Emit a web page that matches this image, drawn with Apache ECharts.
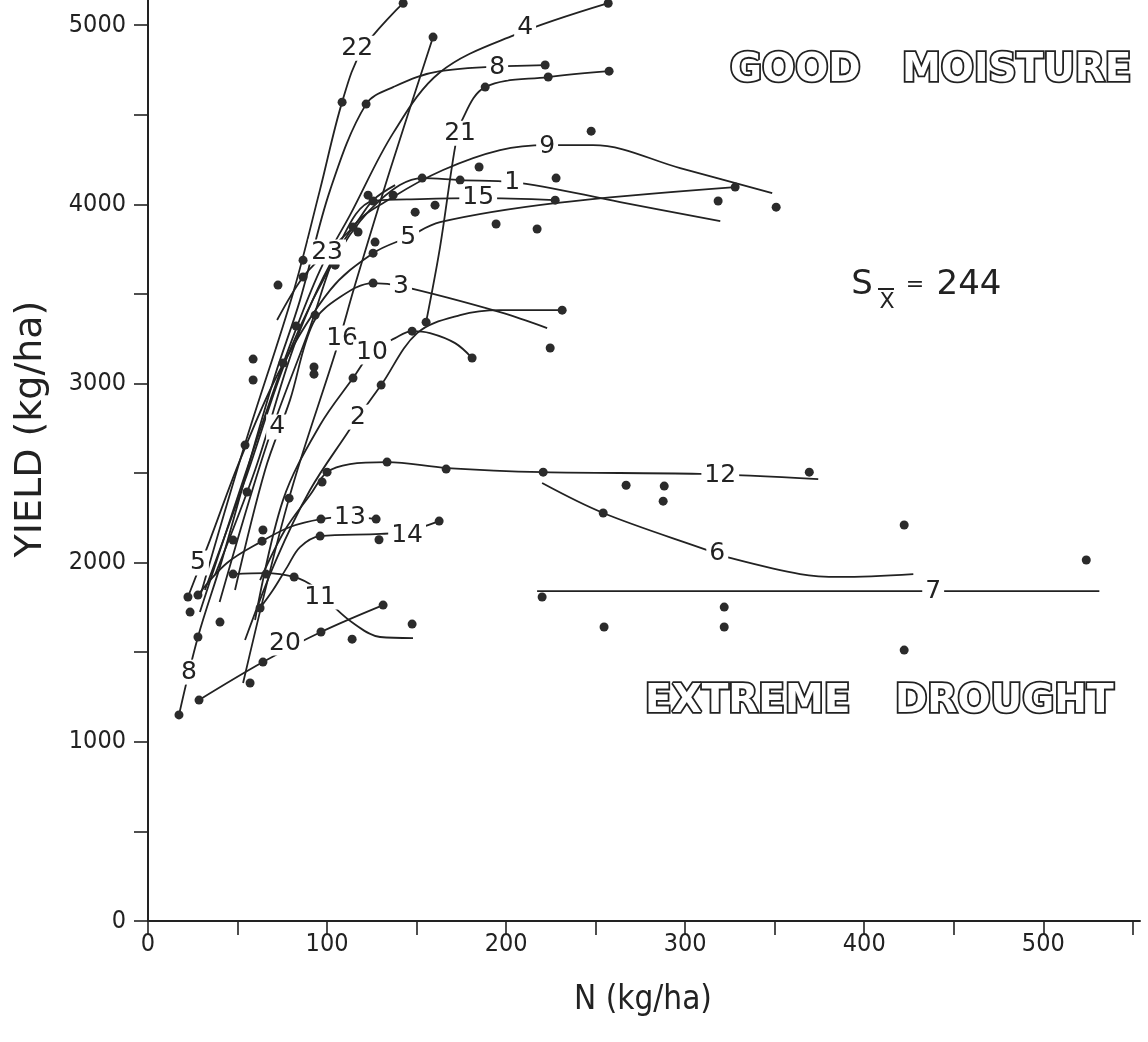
<!DOCTYPE html>
<html>
<head>
<meta charset="utf-8">
<title>Yield vs N</title>
<script src="https://cdn.jsdelivr.net/npm/echarts@6/dist/echarts.min.js"></script>
<style>
  html, body { margin: 0; padding: 0; background: #fff; }
  #chart { width: 1148px; height: 1042px; }
</style>
</head>
<body>
<div id="chart"></div>
<script>
// axis ticks and labels
const xTicks = [0, 50, 100, 150, 200, 250, 300, 350, 400, 450, 500, 550];
const xLabels = [0, 100, 200, 300, 400, 500];
const yTicks = [0, 500, 1000, 1500, 2000, 2500, 3000, 3500, 4000, 4500, 5000];
const yLabels = [0, 1000, 2000, 3000, 4000, 5000];

// fitted response curves, [N, yield]
const curve22 = [[29, 1808], [54, 2656], [81, 3504], [96, 4079], [108.4, 4570], [119.6, 4860], [142.5, 5122]];
const curve8 = [[17.3, 1150], [27.9, 1585], [41.3, 2014], [57, 2572], [71, 3047], [84.9, 3465], [101.7, 4079], [121.8, 4559], [136.9, 4654], [163.1, 4743], [221.8, 4777]];
const curve4 = [[29, 1724], [45.8, 2238], [62.6, 2740], [79.3, 3214], [96.1, 3633], [112.8, 3939], [136.9, 4397], [163.1, 4737], [204.5, 4944], [257, 5122]];
const curve16 = [[53.1, 1328], [78.8, 2360], [105.6, 3203], [115.6, 3549], [135.2, 4191], [159.2, 4933]];
const curve21 = [[155.3, 3342], [163.1, 3761], [171.5, 4319], [175.4, 4470], [188.3, 4654], [223.5, 4710], [257.5, 4743]];
const curve9 = [[37.4, 1931], [59.8, 2517], [84.9, 3298], [114.5, 3873], [136.9, 4040], [164.8, 4191], [196.6, 4302], [222.9, 4330], [248.6, 4330], [297.2, 4202], [348.6, 4062]];
const curve1 = [[31.8, 1847], [54.2, 2461], [79.3, 3186], [107.3, 3744], [129.6, 4023], [153.1, 4146], [174.3, 4135], [203.4, 4124], [263.7, 4012], [319.6, 3906]];
const curve15 = [[40, 1780], [66, 2650], [90, 3300], [108, 3800], [125.7, 4018], [152, 4029], [184.4, 4034], [227.4, 4023]];
const curve5 = [[22.3, 1808], [34.6, 2126], [51.4, 2572], [73.7, 3075], [101.7, 3521], [125.7, 3727], [145.3, 3817], [163.1, 3900], [227.4, 4006], [327.9, 4096]];
const curve3 = [[48.6, 1847], [65.4, 2517], [79.3, 2907], [92.2, 3337], [107.3, 3482], [125.7, 3560], [141.3, 3543], [196.6, 3398], [222.9, 3309]];
const curve10 = [[59.8, 1680], [75.4, 2349], [96.1, 2768], [114.5, 3030], [125.1, 3175], [138, 3253], [147.5, 3292], [157.5, 3281], [171.5, 3225], [181, 3142]];
const curve2 = [[54.2, 1568], [71.5, 2014], [90.5, 2405], [111.7, 2729], [117.3, 2812], [130.2, 2991], [150.3, 3281], [174.3, 3381], [196.6, 3409], [231.3, 3409]];
const curve12 = [[62.6, 1903], [76.5, 2182], [90.5, 2377], [100, 2505], [112.8, 2550], [133.5, 2561], [167, 2528], [220.7, 2505], [308, 2495], [374.3, 2466]];
const curve6 = [[220.1, 2444], [254.2, 2277], [312.3, 2070], [325.1, 2026], [364.2, 1936], [386.6, 1920], [427.4, 1936]];
const curve7 = [[217.3, 1841], [531.3, 1841]];
const curve13 = [[27.9, 1819], [44.1, 1998], [63.7, 2120], [79.3, 2199], [96.6, 2243], [112.8, 2255], [127.4, 2243]];
const curve14 = [[62.6, 1747], [69.8, 1847], [77.7, 1975], [84.9, 2087], [96.1, 2148], [130, 2160], [144.7, 2175], [162.6, 2232]];
const curve11 = [[47.5, 1936], [65.4, 1942], [81.6, 1920], [92.7, 1864], [102.8, 1763], [114.5, 1663], [129.6, 1585], [148, 1579]];
const curve20 = [[28.5, 1233], [64.2, 1445], [96.6, 1613], [131.3, 1763]];
const curve23 = [[72.1, 3354], [86.6, 3594], [100, 3733], [114.5, 3873], [125.7, 4023], [138, 4107]];

// observed points lying on the curves
const curveDots = [
  [108.4, 4570], [142.5, 5122], [17.3, 1150], [27.9, 1585], [121.8, 4559], [221.8, 4777], [257, 5122],
  [159.2, 4933], [78.8, 2360], [155.3, 3342], [188.3, 4654], [223.5, 4710], [257.5, 4743], [227.4, 4023],
  [327.9, 4096], [125.7, 3560], [114.5, 3030], [147.5, 3292], [181, 3142], [130.2, 2991], [231.3, 3409],
  [97.2, 2450], [100, 2505], [133.5, 2561], [166.5, 2522], [220.7, 2505], [369.3, 2505], [254.2, 2277],
  [220.1, 1808], [63.7, 2120], [96.6, 2243], [127.4, 2243], [96.1, 2148], [162.6, 2232], [62.6, 1747],
  [47.5, 1936], [65.9, 1936], [81.6, 1920], [28.5, 1233], [64.2, 1445], [96.6, 1613], [131.3, 1763],
  [86.6, 3594], [114.5, 3873]
];
// points in the low-N bundle
const bundleDots = [
  [22.3, 1808], [27.9, 1819], [23.5, 1724], [40.2, 1668], [47.5, 2126], [54.2, 2656], [55.3, 2394],
  [86.6, 3688], [82.7, 3320], [93.3, 3381], [75.4, 3114], [104.5, 3660], [117.3, 3845], [122.9, 4051],
  [125.7, 4018], [136.9, 4051], [126.8, 3789], [125.7, 3727], [153.1, 4146], [174.3, 4135]
];
// points off the curves
const looseDots = [
  [72.6, 3549], [58.7, 3136], [58.7, 3019], [92.7, 3092], [92.7, 3052], [149.2, 3956], [160.3, 3995],
  [184.9, 4208], [227.9, 4146], [194.4, 3890], [217.3, 3862], [247.5, 4408], [318.4, 4018], [350.8, 3984],
  [224.6, 3198], [267, 2432], [288.3, 2427], [287.7, 2343], [254.7, 1641], [321.8, 1752], [321.8, 1641],
  [422.3, 2210], [422.3, 1512], [524, 2015], [147.5, 1657], [114, 1573], [57, 1328], [129, 2128], [64.2, 2182]
];

// curve numbers written on the lines: [text, N, yield]
const curveLabels = [
  ['22', 116.8, 4871], ['4', 210.6, 4989], ['8', 195, 4765], ['21', 174.3, 4397], ['9', 222.9, 4325],
  ['1', 203.4, 4124], ['15', 184.4, 4040], ['23', 100, 3733], ['5', 145.3, 3817], ['3', 141.3, 3543],
  ['16', 108.4, 3253], ['10', 125.1, 3175], ['2', 117.3, 2812], ['4', 72.1, 2757], ['12', 319.6, 2489],
  ['13', 112.8, 2254], ['14', 144.7, 2154], ['6', 317.9, 2053], ['11', 96.1, 1808], ['7', 438.5, 1841],
  ['5', 27.9, 1998], ['20', 76.5, 1551], ['8', 22.9, 1389]
];

const curves = [curve22, curve8, curve4, curve16, curve21, curve9, curve1, curve15, curve5, curve3,
  curve10, curve2, curve12, curve6, curve7, curve13, curve14, curve11, curve20, curve23];

const ink = '#222';
const narrow = '"Liberation Sans Narrow", "DejaVu Sans Condensed", sans-serif';

const chart = echarts.init(document.getElementById('chart'));

// outlined lettering: dark stroked copy underneath, white copy on top
function outlined (text, x, y) {
  const font = 'bold 39px "DejaVu Sans"';
  return [
    { type: 'text', x: x, y: y, z: 10, silent: true,
      style: { text: text, font: font, fill: ink, stroke: ink, lineWidth: 3.6,
        align: 'left', verticalAlign: 'middle', textAlign: 'left', textVerticalAlign: 'middle' } },
    { type: 'text', x: x, y: y, z: 11, silent: true,
      style: { text: text, font: font, fill: '#fff',
        align: 'left', verticalAlign: 'middle', textAlign: 'left', textVerticalAlign: 'middle' } }
  ];
}

function plainText (text, x, y, font, rotation) {
  return { type: 'text', x: x, y: y, rotation: rotation || 0, z: 10, silent: true,
    style: { text: text, font: font, fill: ink,
      align: 'center', verticalAlign: 'middle', textAlign: 'center', textVerticalAlign: 'middle' } };
}

const series = curves.map(function (c) {
  return {
    type: 'line',
    data: c,
    smooth: 0.35,
    symbol: 'none',
    silent: true,
    z: 2,
    lineStyle: { color: ink, width: 1.8 },
  };
});

series.push({
  type: 'scatter',
  data: curveDots.concat(bundleDots, looseDots),
  symbolSize: 9,
  silent: true,
  z: 3,
  itemStyle: { color: '#2b2b2b', opacity: 1 },
});

series.push({
  type: 'scatter',
  data: curveLabels.map(function (d) { return { name: d[0], value: [d[1], d[2]] }; }),
  symbolSize: 0,
  silent: true,
  z: 4,
  itemStyle: { opacity: 1 },
  label: {
    show: true,
    position: 'inside',
    formatter: '{b}',
    fontFamily: '"DejaVu Sans", sans-serif',
    fontSize: 25,
    color: ink,
    opacity: 1,
    backgroundColor: '#fff',
    padding: [0, 3],
  },
});

const option = {
  backgroundColor: '#fff',
  animation: false,
  grid: { left: 148, right: 8, top: 0, bottom: 121 },
  xAxis: {
    type: 'value',
    min: 0,
    max: 554,
    splitLine: { show: false },
    axisLine: { lineStyle: { color: ink, width: 2 } },
    axisTick: { customValues: xTicks, length: 14, lineStyle: { color: ink, width: 1.6 } },
    axisLabel: { customValues: xLabels, margin: 11, fontFamily: narrow, fontSize: 25, color: ink,
      formatter: function (v) { return String(v); } },
  },
  yAxis: {
    type: 'value',
    min: 0,
    max: 5140,
    splitLine: { show: false },
    axisLine: { show: true, lineStyle: { color: ink, width: 2 } },
    axisTick: { show: true, customValues: yTicks, length: 14, lineStyle: { color: ink, width: 1.6 } },
    axisLabel: { customValues: yLabels, margin: 22, fontFamily: narrow, fontSize: 25, color: ink,
      formatter: function (v) { return String(v); } },
  },
  graphic: [].concat(
    outlined('GOOD', 730, 71),
    outlined('MOISTURE', 902, 71),
    outlined('EXTREME', 645, 702),
    outlined('DROUGHT', 895, 702),
    [
      plainText('YIELD (kg/ha)', 31, 429, '38px "DejaVu Sans"', Math.PI / 2),
      plainText('N (kg/ha)', 643, 1000, '33px ' + narrow),
      plainText('S', 862, 285, '34px "DejaVu Sans"'),
      plainText('X', 887, 302, '22px "DejaVu Sans"'),
      { type: 'line', z: 10, silent: true, shape: { x1: 878, y1: 289, x2: 894, y2: 289 },
        style: { stroke: ink, lineWidth: 2 } },
      plainText('=', 915, 285, '22px "DejaVu Sans"'),
      plainText('244', 969, 285, '34px "DejaVu Sans"'),
    ]
  ),
  series: series,
};

chart.setOption(option);
</script>
</body>
</html>
